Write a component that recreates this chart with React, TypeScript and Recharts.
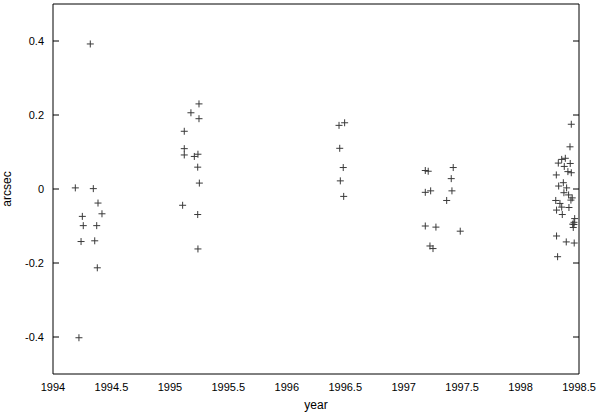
import { ScatterChart, Scatter, XAxis, YAxis } from 'recharts';

// positional offsets per observing season: epoch (year) and offset (arcsec)
const season1994Year = [1994.319, 1994.191, 1994.345, 1994.385, 1994.419, 1994.251, 1994.259, 1994.374, 1994.24, 1994.357, 1994.379, 1994.222];
const season1994Arcsec = [0.392, 0.003, 0.001, -0.038, -0.067, -0.074, -0.099, -0.099, -0.142, -0.14, -0.213, -0.402];

const season1995Year = [1995.249, 1995.18, 1995.249, 1995.123, 1995.123, 1995.123, 1995.209, 1995.24, 1995.238, 1995.252, 1995.109, 1995.238, 1995.24];
const season1995Arcsec = [0.23, 0.206, 0.19, 0.156, 0.109, 0.092, 0.088, 0.094, 0.059, 0.016, -0.044, -0.069, -0.162];

const season1996Year = [1996.447, 1996.495, 1996.453, 1996.483, 1996.458, 1996.487];
const season1996Arcsec = [0.172, 0.179, 0.11, 0.058, 0.022, -0.02];

const season1997Year = [1997.185, 1997.21, 1997.424, 1997.407, 1997.231, 1997.185, 1997.413, 1997.368, 1997.185, 1997.276, 1997.484, 1997.225, 1997.251];
const season1997Arcsec = [0.05, 0.048, 0.058, 0.028, -0.005, -0.009, -0.005, -0.031, -0.1, -0.103, -0.114, -0.154, -0.161];

const season1998Year = [
  1998.434, 1998.423, 1998.383, 1998.352, 1998.323, 1998.425, 1998.374, 1998.405, 1998.434, 1998.306, 1998.366,
  1998.326, 1998.394, 1998.371, 1998.411, 1998.442, 1998.431, 1998.301, 1998.337, 1998.352, 1998.414, 1998.308,
  1998.357, 1998.463, 1998.457, 1998.446, 1998.457, 1998.451, 1998.308, 1998.391, 1998.459, 1998.317,
];
const season1998Arcsec = [
  0.175, 0.114, 0.083, 0.08, 0.07, 0.069, 0.061, 0.047, 0.044, 0.038, 0.017,
  0.008, 0.003, -0.01, -0.016, -0.024, -0.03, -0.031, -0.039, -0.049, -0.05, -0.057,
  -0.069, -0.08, -0.09, -0.095, -0.096, -0.104, -0.127, -0.143, -0.146, -0.183,
];

const xTicks = [1994, 1994.5, 1995, 1995.5, 1996, 1996.5, 1997, 1997.5, 1998, 1998.5];
const yTicks = [-0.4, -0.2, 0, 0.2, 0.4];

const seasons = [
  [season1994Year, season1994Arcsec],
  [season1995Year, season1995Arcsec],
  [season1996Year, season1996Arcsec],
  [season1997Year, season1997Arcsec],
  [season1998Year, season1998Arcsec],
];

const points = seasons.flatMap(([years, offs]) => years.map((year, i) => ({ year, arcsec: offs[i] })));

const tickFont = { fontFamily: 'Liberation Sans, Arial, sans-serif', fontSize: 11, fill: '#000' };

const Plus = (props: any) => {
  const { cx, cy } = props;
  if (cx == null || cy == null) return <g />;
  return <path d={`M${cx - 3.5},${cy}h7M${cx},${cy - 3.5}v7`} stroke="#3a3a3a" strokeWidth={1} fill="none" />;
};

const Empty = () => <g />;

export default function App() {
  return (
    <div style={{ position: 'absolute', left: 0, top: 0, width: 600, height: 412, background: '#fff' }}>
      <ScatterChart width={600} height={412} margin={{ top: 4, right: 21, left: 0, bottom: 0 }}>
        {/* labelled axes */}
        <XAxis
          xAxisId="main"
          dataKey="year"
          type="number"
          domain={[1994, 1998.5]}
          ticks={xTicks}
          allowDataOverflow
          height={38}
          tickLine={false}
          axisLine={false}
          tickSize={0}
          tickMargin={9}
          tick={tickFont}
          interval={0}
          label={{ value: 'year', position: 'insideBottom', offset: 3, style: { ...tickFont, fontSize: 12 } }}
        />
        <YAxis
          yAxisId="main"
          dataKey="arcsec"
          type="number"
          domain={[-0.5, 0.5]}
          ticks={yTicks}
          allowDataOverflow
          width={53}
          tickLine={false}
          axisLine={false}
          tickSize={0}
          tickMargin={9}
          tick={tickFont}
          interval={0}
          label={{ value: 'arcsec', angle: -90, position: 'insideLeft', offset: 7, style: { ...tickFont, fontSize: 12, textAnchor: 'middle' } }}
        />
        {/* frame with inward ticks */}
        <XAxis xAxisId="bm" type="number" domain={[1994, 1998.5]} ticks={xTicks} interval={0} mirror orientation="bottom" tick={Empty} tickSize={6} stroke="#000" allowDataOverflow />
        <XAxis xAxisId="tm" type="number" domain={[1994, 1998.5]} ticks={xTicks} interval={0} mirror orientation="top" tick={Empty} tickSize={6} stroke="#000" allowDataOverflow />
        <YAxis yAxisId="lm" type="number" domain={[-0.5, 0.5]} ticks={yTicks} interval={0} mirror orientation="left" tick={Empty} tickSize={6} stroke="#000" allowDataOverflow />
        <YAxis yAxisId="rm" type="number" domain={[-0.5, 0.5]} ticks={yTicks} interval={0} mirror orientation="right" tick={Empty} tickSize={6} stroke="#000" allowDataOverflow />
        <Scatter xAxisId="main" yAxisId="main" data={points} shape={Plus} isAnimationActive={false} />
      </ScatterChart>
    </div>
  );
}
